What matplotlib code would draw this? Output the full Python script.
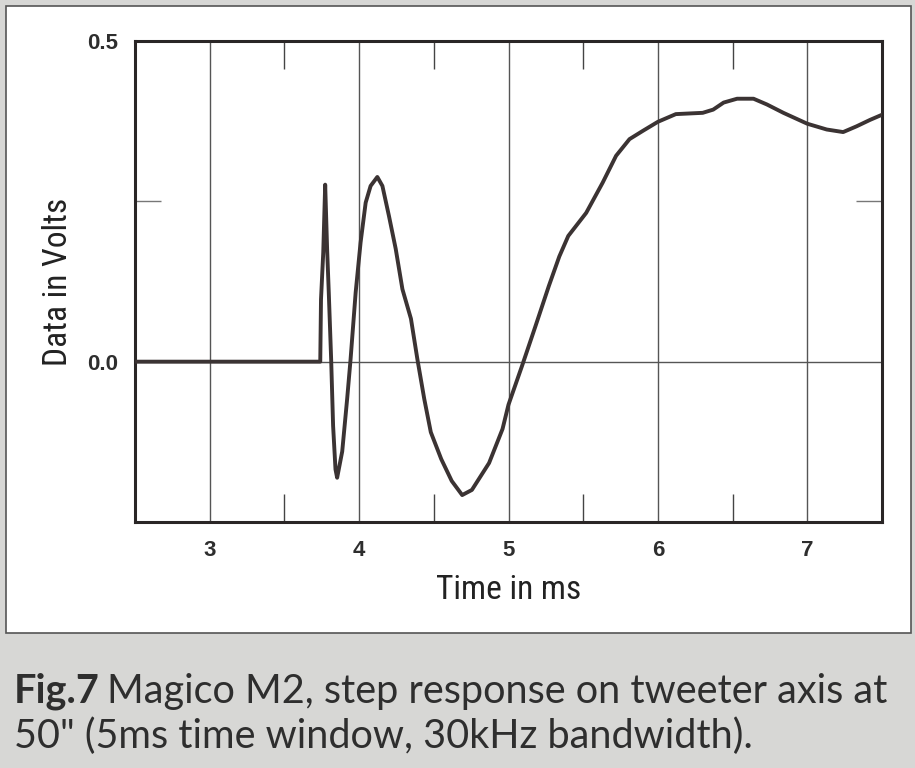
import numpy as np
import matplotlib.pyplot as plt
from matplotlib.patches import Rectangle
from matplotlib.ticker import FixedLocator

plt.rcParams['font.family'] = ['Liberation Sans', 'DejaVu Sans']

# step response (ms, volts)
time_ms = [2.50, 3.00, 3.50, 3.74, 3.745, 3.76, 3.773, 3.786, 3.797, 3.813,
           3.826, 3.842, 3.853, 3.887, 3.92, 3.943, 3.977, 4.01, 4.044, 4.077,
           4.122, 4.156, 4.20, 4.245, 4.29, 4.347, 4.39, 4.436, 4.48, 4.55,
           4.62, 4.69, 4.755, 4.87, 4.96, 5.00, 5.09, 5.18, 5.27, 5.34,
           5.40, 5.52, 5.63, 5.72, 5.81, 5.90, 6.00, 6.12, 6.30, 6.37,
           6.44, 6.53, 6.64, 6.73, 6.84, 7.00, 7.13, 7.24, 7.33, 7.42, 7.50]
volts = [0.0, 0.0, 0.0, 0.0, 0.097, 0.17, 0.276, 0.175, 0.108, 0.003,
         -0.10, -0.168, -0.181, -0.14, -0.058, 0.004, 0.108, 0.186, 0.248, 0.274,
         0.288, 0.274, 0.227, 0.176, 0.113, 0.067, 0.004, -0.058, -0.11, -0.152,
         -0.186, -0.208, -0.20, -0.158, -0.105, -0.067, -0.007, 0.055, 0.118, 0.164,
         0.196, 0.232, 0.279, 0.321, 0.347, 0.36, 0.374, 0.386, 0.388, 0.393,
         0.404, 0.41, 0.41, 0.401, 0.388, 0.371, 0.362, 0.358, 0.367, 0.377, 0.385]

x_major = [3, 4, 5, 6, 7]
x_minor = [3.5, 4.5, 5.5, 6.5]
y_major = [0.0, 0.5]
y_labels = ['0.0', '0.5']
y_minor = [0.25]

ink = '#3b3333'
W, H = 915, 768
fig = plt.figure(figsize=(W / 100, H / 100), dpi=100)
fig.patch.set_facecolor('#d7d7d5')

# white panel behind the chart
fig.patches.append(Rectangle((6 / W, 1 - 633 / H), (911 - 6) / W, (633 - 6) / H,
                             transform=fig.transFigure, facecolor='white',
                             edgecolor='#555555', linewidth=1.2, zorder=-5))

ax = fig.add_axes([135 / W, 1 - 522 / H, (882 - 135) / W, (522 - 41) / H])
ax.set_facecolor('none')
ax.set_xlim(2.5, 7.5)
ax.set_ylim(-0.25, 0.5)

for x in x_major:
    ax.axvline(x, color='#555555', lw=1.0, zorder=1)
ax.axhline(0, color='#555555', lw=1.0, zorder=1)

ax.plot(time_ms, volts, color=ink, lw=2.8, zorder=3,
        solid_joinstyle='round', solid_capstyle='round')

ax.xaxis.set_major_locator(FixedLocator(x_major))
ax.xaxis.set_minor_locator(FixedLocator(x_minor))
ax.yaxis.set_major_locator(FixedLocator(y_major))
ax.yaxis.set_minor_locator(FixedLocator(y_minor))
ax.set_yticklabels(y_labels, fontweight='bold', fontsize=16)
ax.set_xticklabels([str(v) for v in x_major], fontweight='bold', fontsize=16)
ax.tick_params(axis='both', which='major', length=0, colors='#2e2e2e')
ax.tick_params(axis='x', which='major', pad=13)
ax.tick_params(axis='y', which='major', pad=12)
ax.tick_params(axis='x', which='minor', direction='in', length=20, width=1.0,
               color='#444444', top=True, bottom=True)
ax.tick_params(axis='y', which='minor', direction='in', length=19, width=1.0,
               color='#777777', left=True, right=True)

for s in ax.spines.values():
    s.set_linewidth(2.2)
    s.set_color('#2a2626')

lab_font = ['Roboto Condensed', 'DejaVu Sans']
ax.set_xlabel('Time in ms', fontsize=24, family=lab_font, stretch='condensed',
              color='#222222')
ax.xaxis.set_label_coords(0.5, -0.108)
ax.set_ylabel('Data in Volts', fontsize=24, family=lab_font, stretch='condensed',
              color='#222222')
ax.yaxis.set_label_coords(-0.082, 0.5)

# caption with bold figure number
cap_font = ['Lato', 'DejaVu Sans']
fig.canvas.draw()
r = fig.canvas.get_renderer()
t1 = fig.text(14 / W, 1 - 703 / H, 'Fig.7', fontsize=28.5, weight='bold',
              family=cap_font, color='#2e2e2e', va='baseline')
bb = t1.get_window_extent(renderer=r)
fig.text(bb.x1 / W + 7 / W, 1 - 703 / H, 'Magico M2, step response on tweeter axis at',
         fontsize=28.5, family=cap_font, color='#2e2e2e', va='baseline')
fig.text(14 / W, 1 - 748 / H, '50" (5ms time window, 30kHz bandwidth).',
         fontsize=28.5, family=cap_font, color='#2e2e2e', va='baseline')

fig.savefig('out.png', dpi=100, facecolor=fig.get_facecolor())
